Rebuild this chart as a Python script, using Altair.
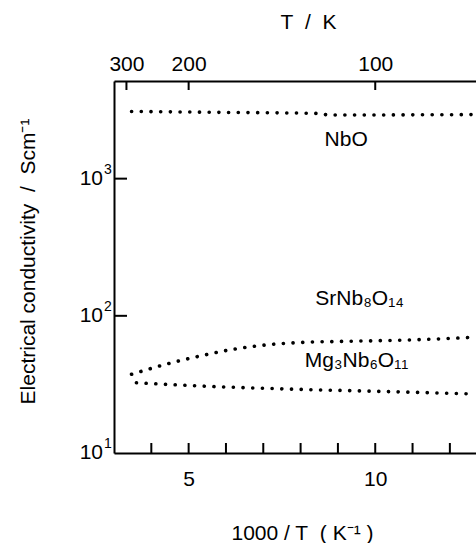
import altair as alt
import pandas as pd

FONT = "Liberation Sans"
NB = "\u00a0"

# NbO
nbo_x = [3.47, 6.0, 8.4, 8.8, 12.65]
nbo_y = [3090, 3040, 2990, 2910, 2930]
# SrNb8O14 (rising curve)
sr_x = [3.47, 4.40, 5.30, 6.19, 7.08, 7.97, 8.87, 9.76, 10.65, 11.55, 12.65]
sr_y = [37.5, 44.4, 50.9, 57.0, 61.4, 63.9, 64.9, 65.6, 66.4, 67.6, 69.8]
# Mg3Nb6O11 (lower flat curve)
mg_x = [3.60, 5.30, 7.97, 10.65, 12.45]
mg_y = [32.5, 30.8, 29.1, 27.9, 27.0]

labels_text = ["NbO", "SrNb\u2088O\u2081\u2084", "Mg\u2083Nb\u2086O\u2081\u2081"]
labels_x = [9.22, 9.58, 9.50]
labels_y = [1905, 133, 46.9]

bottom_ticks = [4, 5, 6, 7, 8, 9, 10, 11, 12]
y_ticks = [100, 1000]
y_label_vals = [10, 100, 1000]
y_label_base = ["10", "10", "10"]
y_label_exp = ["1", "2", "3"]
top_T = [300, 200, 100]

W, H = 362, 372
x_dom = [3, 12.70]
y_dom = [10, 5150]

rows = []
for name, xs, ys in [("NbO", nbo_x, nbo_y), ("Sr", sr_x, sr_y), ("Mg", mg_x, mg_y)]:
    for a, b in zip(xs, ys):
        rows.append({"s": name, "x": a, "y": b})
df = pd.DataFrame(rows)

xscale = alt.Scale(domain=x_dom, nice=False, zero=False)
yscale = alt.Scale(type="log", domain=y_dom, nice=False)

xaxis = alt.Axis(
    orient="bottom", values=[5, 10], ticks=False, grid=False,
    domainColor="black", domainWidth=2, labelPadding=15,
    labelFont=FONT, labelFontSize=21, labelColor="black",
    title=f"1000 / T{NB}{NB}( K\u207b\u00b9 )", titleFont=FONT, titleFontSize=21,
    titleFontWeight="normal", titleColor="black",
    titleY=80, titleX=188, titleBaseline="middle",
)
yaxis = alt.Axis(
    orient="left", values=[10, 100, 1000], ticks=False, grid=False, labels=False,
    domainColor="black", domainWidth=2,
    title=f"Electrical conductivity{NB}{NB}/{NB}{NB}Scm\u207b\u00b9", titleFont=FONT, titleFontSize=21,
    titleFontWeight="normal", titleColor="black", titleAngle=270,
    titleX=-86, titleY=H / 2 - 6, titleAlign="center", titleBaseline="middle",
)

X = lambda f: alt.X(f, type="quantitative", scale=xscale, axis=xaxis)
Y = lambda f: alt.Y(f, type="quantitative", scale=yscale, axis=yaxis)

lines = alt.Chart(df).mark_line(
    color="black", strokeWidth=3.6, strokeDash=[0.1, 9.6], strokeCap="round",
    interpolate="monotone",
).encode(x=X("x"), y=Y("y"), detail="s:N")

lab_df = pd.DataFrame({"t": labels_text, "x": labels_x, "y": labels_y})
labels = alt.Chart(lab_df).mark_text(
    font=FONT, fontSize=21, color="black", align="center", baseline="middle"
).encode(x=X("x"), y=Y("y"), text="t:N")

bt_df = pd.DataFrame({"x": bottom_ticks})
bticks = alt.Chart(bt_df).mark_rule(color="black", strokeWidth=2).encode(
    x=X("x"), y=alt.value(H), y2=alt.value(H - 10)
)

yt_df = pd.DataFrame({"y": y_ticks})
yticks = alt.Chart(yt_df).mark_rule(color="black", strokeWidth=2).encode(
    y=Y("y"), x=alt.value(0), x2=alt.value(13)
)

yl_df = pd.DataFrame({"y": y_label_vals, "b": y_label_base, "e": y_label_exp})
ybase = alt.Chart(yl_df).mark_text(
    font=FONT, fontSize=21, color="black", align="right", baseline="middle"
).encode(y=Y("y"), x=alt.value(-11), text="b:N")
yexp = alt.Chart(yl_df).mark_text(
    font=FONT, fontSize=14, color="black", align="left", baseline="middle", dy=-9
).encode(y=Y("y"), x=alt.value(-10), text="e:N")

main = alt.layer(lines, labels, bticks, yticks, ybase, yexp)

top_df = pd.DataFrame({"T": top_T, "inv": [1000.0 / t for t in top_T]})
top = alt.Chart(top_df).mark_rule(color="black", strokeWidth=2).encode(
    x=alt.X("inv:Q", scale=alt.Scale(domain=x_dom, nice=False, zero=False),
            axis=alt.Axis(
                orient="top", values=[1000.0 / t for t in top_T], ticks=False, grid=False,
                domainColor="black", domainWidth=2, labelPadding=7,
                labelExpr="format(1000 / datum.value, '.0f')",
                labelFont=FONT, labelFontSize=21, labelColor="black",
                title=f"T{NB}{NB}/{NB}{NB}K", titleFont=FONT, titleFontSize=21, titleFontWeight="normal",
                titleColor="black", titleY=-59, titleX=194, titleBaseline="middle",
            )),
    y=alt.value(0), y2=alt.value(9),
)

chart = alt.layer(main, top).resolve_scale(x="independent").properties(
    width=W, height=H,
    autosize=alt.AutoSizeParams(type="none"),
    padding={"left": 114, "top": 81, "right": 0, "bottom": 90},
).configure_view(stroke=None).configure(background="white")

chart.save("out.html", embed_options={"renderer": "svg", "actions": False})
